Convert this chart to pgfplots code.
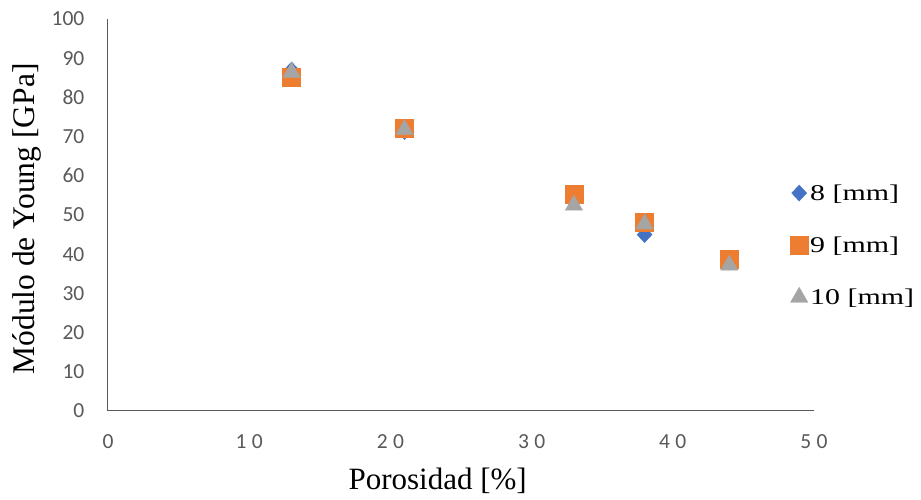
\documentclass[border=0pt]{standalone}
\usepackage{fontspec}
\setmainfont{Liberation Serif}
\newfontfamily\tickfont{Carlito}
\newfontfamily\xtickfont[LetterSpace=25]{Carlito}
\newfontfamily\legfont[FakeStretch=1.33]{Liberation Serif}
\usepackage{pgfplots}
\pgfplotsset{compat=1.18}
\definecolor{c8}{RGB}{68,114,196}
\definecolor{c9}{RGB}{237,125,49}
\definecolor{c10}{RGB}{165,165,165}
\definecolor{axgray}{RGB}{89,89,89}
\begin{document}
\begin{tikzpicture}[x=1pt,y=1pt]
\path[use as bounding box] (-108,-89) rectangle (813,411);
\begin{axis}[
  at={(0,0)}, anchor=origin,
  scale only axis, width=706pt, height=392pt,
  xmin=0, xmax=50, ymin=0, ymax=100,
  xtick={0,10,...,50}, ytick={0,10,...,100},
  axis lines=left,
  hide obscured x ticks=false, hide obscured y ticks=false,
  axis line style={draw=axgray, line width=1pt, -},
  tick style={draw=none},
  /pgf/number format/assume math mode=true,
  xticklabel style={font=\fontsize{21.5}{24}\selectfont\xtickfont, text=axgray, yshift=-18pt},
  yticklabel style={font=\fontsize{21.5}{24}\selectfont\tickfont, text=axgray, xshift=-18pt},
  xlabel={Porosidad [\%]},
  ylabel={Módulo de Young [GPa]},
  xlabel style={font=\fontsize{31}{34}\selectfont, at={(axis description cs:0.467,0)}, anchor=center, yshift=-70pt},
  ylabel style={font=\fontsize{31.5}{34}\selectfont, at={(axis description cs:-0.115,0.49)}, anchor=center},
  legend style={draw=none, fill=none, font=\fontsize{22.5}{26}\selectfont\legfont,
    at={(axis description cs:0.966,0.423)}, anchor=west,
    row sep=31pt, inner sep=0pt, cells={anchor=west}},
  legend image code/.code={\draw[#1] plot coordinates {(0.25cm,0cm)};},
  legend cell align=left,
]
\addplot[only marks, mark=diamond*, mark size=8pt, c8, mark options={fill=c8, draw=c8, xscale=1.25}]
  coordinates {(13,87) (21,71.3) (33,53.5) (38,45) (44,38)};
\addlegendentry{8 [mm]}
\addplot[only marks, mark=square*, mark size=9pt, c9, mark options={fill=c9, draw=c9}]
  coordinates {(13,85.2) (21,72.2) (33,55.4) (38,48.1) (44,38.8)};
\addlegendentry{9 [mm]}
\addplot[only marks, mark=triangle*, mark size=10pt, c10, mark options={fill=c10, draw=c10}]
  coordinates {(13,86.4) (21,71.8) (33,52.5) (38,47.7) (44,37.2)};
\addlegendentry{10 [mm]}
\end{axis}
\end{tikzpicture}
\end{document}
